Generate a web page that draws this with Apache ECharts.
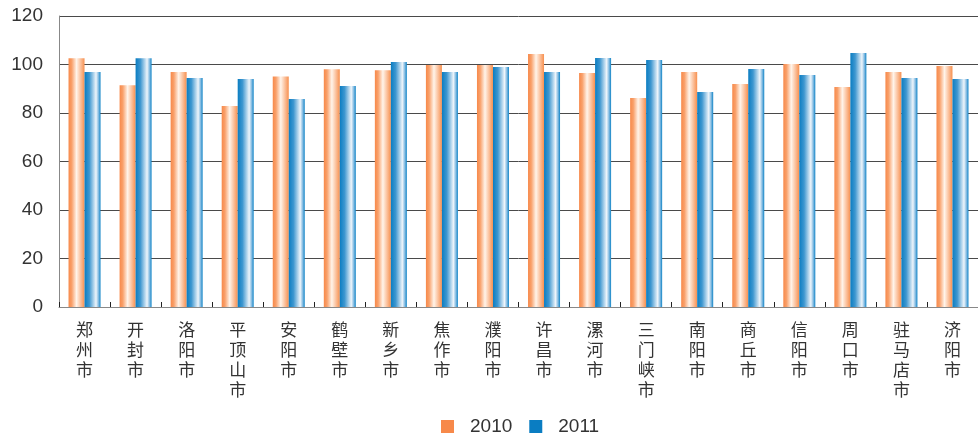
<!DOCTYPE html>
<html>
<head>
<meta charset="utf-8">
<script src="https://cdn.jsdelivr.net/npm/echarts@6/dist/echarts.min.js"></script>
<style>html,body{margin:0;padding:0;background:#fff;}#c{width:978px;height:444px;}</style>
</head>
<body>
<div id="c"></div>
<script>
const categories = ['郑州市','开封市','洛阳市','平顶山市','安阳市','鹤壁市','新乡市','焦作市','濮阳市','许昌市','漯河市','三门峡市','南阳市','商丘市','信阳市','周口市','驻马店市','济阳市'];
const values2010 = [102.6, 91.4, 96.9, 82.9, 95.1, 98.0, 97.6, 99.8, 99.8, 104.3, 96.5, 86.2, 96.9, 92.0, 100.2, 90.7, 96.9, 99.4];
const values2011 = [96.9, 102.6, 94.4, 94.0, 85.8, 91.1, 101.0, 96.9, 99.0, 96.9, 102.7, 101.9, 88.7, 98.1, 95.7, 104.7, 94.4, 94.0];
const seriesNames = ['2010', '2011'];
const yTicks = [0, 20, 40, 60, 80, 100, 120];

const chart = echarts.init(document.getElementById('c'), null, {renderer: 'canvas'});
const orangeGrad = new echarts.graphic.LinearGradient(0, 0, 1, 0, [
  {offset: 0, color: '#F7894A'},
  {offset: 0.2, color: '#F9A06A'},
  {offset: 0.5, color: '#FFF4EA'},
  {offset: 0.75, color: '#FBC29E'},
  {offset: 1, color: '#F7904F'}
]);
const blueGrad = new echarts.graphic.LinearGradient(0, 0, 1, 0, [
  {offset: 0, color: '#0A7DC2'},
  {offset: 0.3, color: '#3E97D0'},
  {offset: 0.72, color: '#EEF5FB'},
  {offset: 0.88, color: '#7DB8E0'},
  {offset: 1, color: '#0E83C6'}
]);
chart.setOption({
  animation: false,
  backgroundColor: '#fff',
  legend: {
    bottom: 3,
    left: 436,
    itemWidth: 13,
    itemHeight: 13,
    itemGap: 17,
    icon: 'rect',
    textStyle: {fontSize: 19, color: '#333', fontFamily: 'Liberation Sans, Arial, sans-serif', padding: [0, 0, 0, 11]},
    data: [
      {name: seriesNames[0], itemStyle: {color: '#F7894A'}},
      {name: seriesNames[1], itemStyle: {color: '#0A7DC2'}}
    ]
  },
  grid: {left: 59, right: 0, top: 16, bottom: 137, containLabel: false},
  xAxis: {
    type: 'category',
    data: categories,
    axisLine: {lineStyle: {color: '#888', width: 1}},
    axisTick: {show: true, inside: true, length: 5, lineStyle: {color: '#222'}},
    axisLabel: {
      interval: 0,
      margin: 13,
      fontSize: 17,
      lineHeight: 20,
      color: '#333',
      fontFamily: 'Noto Sans CJK SC, sans-serif',
      formatter: v => v.split('').join('\n')
    }
  },
  yAxis: {
    type: 'value',
    min: yTicks[0],
    max: yTicks[yTicks.length - 1],
    interval: 20,
    axisLine: {show: true, lineStyle: {color: '#888', width: 1}},
    axisTick: {show: false},
    axisLabel: {fontSize: 19, color: '#333', margin: 16, fontFamily: 'Liberation Sans, Arial, sans-serif'},
    splitLine: {lineStyle: {color: '#4a4a4a', width: 1}}
  },
  series: [
    {name: seriesNames[0], type: 'bar', data: values2010, barWidth: 16, barGap: '0%', itemStyle: {color: orangeGrad}},
    {name: seriesNames[1], type: 'bar', data: values2011, barWidth: 16, barGap: '0%', itemStyle: {color: blueGrad}}
  ]
});
</script>
</body>
</html>
